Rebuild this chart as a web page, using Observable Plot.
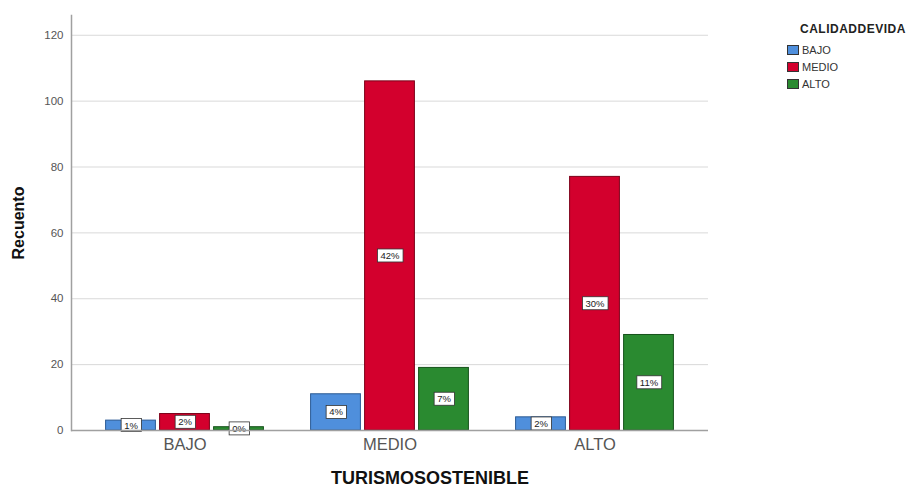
<!DOCTYPE html>
<html><head><meta charset="utf-8">
<script src="https://cdn.jsdelivr.net/npm/d3@7"></script>
<script src="https://cdn.jsdelivr.net/npm/@observablehq/plot@0.6"></script>
<style>
body{margin:0;background:#fff;font-family:"Liberation Sans",Arial,sans-serif;}
#wrap{position:relative;width:922px;height:486px;overflow:hidden;}
#legend{position:absolute;left:787px;top:22px;color:#222;}
#legend .title{font-weight:bold;font-size:12px;margin-left:13px;margin-bottom:5px;line-height:14px;letter-spacing:0.5px;}
#legend .item{display:flex;align-items:center;height:17px;font-size:11px;color:#333;}
#legend .sw{width:12px;height:10px;border:1px solid #333;margin-right:3px;box-sizing:border-box;}
</style></head><body>
<div id="wrap"><div id="chart"></div><div id="legend"></div></div>
<script>
// Data
const groups = ["BAJO", "MEDIO", "ALTO"];          // TURISMOSOSTENIBLE categories
const series = ["BAJO", "MEDIO", "ALTO"];          // CALIDADDEVIDA series
const bajoCounts  = [3, 11, 4];
const medioCounts = [5, 106, 77];
const altoCounts  = [1, 19, 29];
const yTicks = [0, 20, 40, 60, 80, 100, 120];
const colors = ["#4f8fdc", "#d3002d", "#2a8a30"];
const strokes = ["#2b5a94", "#7c0019", "#16521b"];

const seriesCounts = [bajoCounts, medioCounts, altoCounts];
const total = d3.sum(seriesCounts.flat());
const rows = [];
series.forEach((s, i) => groups.forEach((g, j) => {
  const v = seriesCounts[i][j];
  rows.push({s, g, v, si: i, pct: Math.round(v / total * 100) + "%"});
}));

const barW = 50, step = 54;
const x0 = 81.4, x1 = 697;
const bandW = (x1 - x0) / groups.length;
const inset = (bandW - barW) / 2;

const marks = [
  Plot.ruleY(yTicks.slice(1), {stroke: "#d9d9d9", strokeWidth: 1})
];
series.forEach((s, i) => {
  const d = rows.filter(r => r.si === i);
  marks.push(Plot.barY(d, {x: "g", y: "v", fill: colors[i], stroke: strokes[i], strokeWidth: 1,
    insetLeft: inset, insetRight: inset, dx: (i - 1) * step}));
});
series.forEach((s, i) => {
  const d = rows.filter(r => r.si === i);
  marks.push(Plot.text(d, {x: "g", y: r => r.v / 2, text: "pct", dx: (i - 1) * step,
    fontSize: 9.5, fill: "#222", className: "pct"}));
});
marks.push(
  Plot.ruleY([0], {stroke: "#a0a0a0", strokeWidth: 1.5}),
  Plot.frame({anchor: "left", stroke: "#a0a0a0", strokeWidth: 1.5}),
  Plot.axisY({ticks: yTicks, tickSize: 0, tickPadding: 8, fontSize: 11.5, color: "#555", label: null}),
  Plot.axisX({tickSize: 0, tickPadding: 8, fontSize: 16.5, color: "#555", label: null}),
  Plot.text(["Recuento"], {frameAnchor: "left", textAnchor: "middle", rotate: -90, dx: -53, fontSize: 16, fontWeight: "bold", fill: "#111"}),
  Plot.text(["TURISMOSOSTENIBLE"], {frameAnchor: "bottom", textAnchor: "middle", dx: 40, dy: 53, fontSize: 18, fontWeight: "bold", fill: "#111"})
);

const chart = Plot.plot({
  width: 922, height: 486,
  marginLeft: 71, marginRight: 214, marginTop: 15, marginBottom: 56,
  style: {fontFamily: "Liberation Sans, Arial, sans-serif", background: "#fff"},
  x: {type: "band", domain: groups, range: [x0, x1], padding: 0},
  y: {domain: [0, 126]},
  marks
});
document.getElementById("chart").appendChild(chart);

// white boxes behind the percentage labels
chart.querySelectorAll("g.pct text").forEach(t => {
  const b = t.getBBox();
  const r = document.createElementNS("http://www.w3.org/2000/svg", "rect");
  r.setAttribute("x", b.x - 3); r.setAttribute("y", b.y - 1);
  r.setAttribute("width", b.width + 6); r.setAttribute("height", b.height + 2);
  r.setAttribute("fill", "#fff"); r.setAttribute("stroke", "#333"); r.setAttribute("stroke-width", 0.8);
  if (t.getAttribute("transform")) r.setAttribute("transform", t.getAttribute("transform"));
  t.parentNode.insertBefore(r, t);
});

// legend
const lg = document.getElementById("legend");
lg.innerHTML = `<div class="title">CALIDADDEVIDA</div>` +
  series.map((s, i) => `<div class="item"><div class="sw" style="background:${colors[i]}"></div>${s}</div>`).join("");
</script>
</body></html>
